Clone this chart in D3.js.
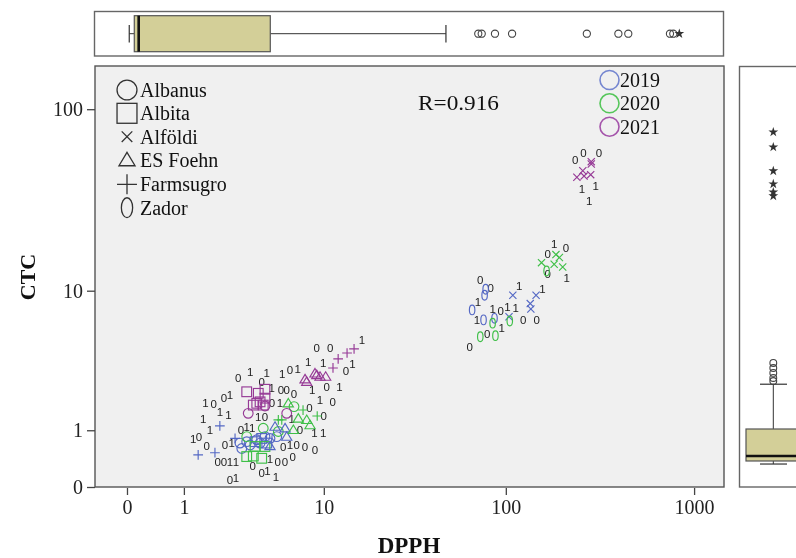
<!DOCTYPE html>
<html><head><meta charset="utf-8">
<script src="https://cdn.jsdelivr.net/npm/d3@7"></script>
<style>body{margin:0;background:#fff;} svg{display:block;will-change:transform;}</style>
</head><body><svg id="c" width="796" height="558"></svg>
<script>
// ---------- DATA ----------
const DPPH_TICKS = [0, 1, 10, 100, 1000];
const CTC_TICKS = [0, 1, 10, 100];
const CULTIVARS = ["Albanus", "Albita", "Alföldi", "ES Foehn", "Farmsugro", "Zador"];
const YEARS = ["2019", "2020", "2021"];
const R_TEXT = "R=0.916";

// [DPPH, CTC]
const albanus2019 = [[2.96,0.71],[3.05,0.60],[3.48,0.67],[3.86,0.78],[4.37,0.85],[4.71,0.81],[5.20,0.85],[4.06,0.71],[3.30,0.74]];
const albanus2020 = [[4.26,1.05],[3.30,0.85],[5.32,0.97],[6.65,1.67]];
const albanus2021 = [[3.38,1.46],[6.0,1.46],[4.37,1.69]];
const albita2019 = [[3.76,0.74],[4.16,0.81],[4.49,0.71]];
const albita2020 = [[3.30,0.45],[3.66,0.46],[4.16,0.42],[3.76,0.64],[4.37,0.64]];
const albita2021 = [[3.30,2.20],[3.95,2.14],[4.37,2.30],[4.37,1.96],[4.06,1.83],[3.66,1.72],[3.86,1.78],[4.26,1.72]];
const alfoldi2019 = [[109,9.4],[145,9.4],[135,8.4],[136,7.8],[104,7.0]];
const alfoldi2020 = [[155,14.5],[185,16.1],[193,15.5],[181,14.2],[201,13.7]];
const alfoldi2021 = [[285,52.2],[285,50.7],[257,46.6],[239,43.0],[261,43.6],[283,44.4]];
const foehn2019 = [[5.07,1.09],[5.86,1.05],[6.0,0.85],[4.71,0.65]];
const foehn2020 = [[6.14,1.78],[7.06,1.31],[7.93,1.27],[8.30,1.13],[6.59,1.01]];
const foehn2021 = [[7.75,2.73],[7.93,2.62],[8.88,3.01],[9.09,2.93],[9.5,2.85],[10.25,2.85]];
const farm2019 = [[2.10,1.11],[2.73,0.81],[1.38,0.48],[1.92,0.52]];
const farm2020 = [[5.32,1.27],[5.59,1.27],[7.54,1.56],[9.15,1.38]];
const farm2021 = [[12.1,3.78],[13.6,4.14],[14.9,4.40],[11.3,3.28]];
const zador2019 = [[78,10.2],[77,9.4],[66,7.7],[76,6.7],[87,6.85]];
const zador2020 = [[85,6.4],[105,6.6],[73,5.27],[88,5.35],[165,13.0]];

// point labels: [text, DPPH, CTC]
const pointLabels = [
 ["0",234,53.3],["0",259,57.9],["0",313,58.4],["1",254,36.9],["1",301,38.7],["1",278,32.0],
 ["1",181,18.5],["0",209,17.5],["0",167,16.2],["0",167,12.5],["1",211,11.9],
 ["0",73,11.5],["0",83,10.4],["1",118,10.7],["1",157,10.2],["1",71,8.6],["1",85,7.8],["0",94,7.6],
 ["1",102,8.0],["1",113,7.9],["1",70,6.7],["0",124,6.7],["0",146,6.7],["1",95,6.0],["0",79.5,5.5],["0",64,4.55],
 ["1",16.5,5.03],["0",9.09,4.44],["0",10.9,4.44],["1",9.93,3.53],["1",14.6,3.49],["0",13.4,3.13],
 ["1",8.10,3.59],["1",5.63,2.96],["0",6.29,3.18],["1",7.0,3.21],["0",2.88,2.77],["1",3.48,3.09],
 ["1",4.49,3.01],["0",4.16,2.62],["1",4.83,2.34],["0",5.53,2.27],["0",6.0,2.27],["0",6.65,2.11],
 ["1",8.55,2.27],["0",10.4,2.40],["1",12.3,2.40],["1",9.5,1.89],["0",11.25,1.83],["1",1.60,1.78],
 ["0",1.88,1.76],["0",2.26,1.98],["1",2.51,2.08],["0",4.85,1.78],["1",5.45,1.80],["0",8.22,1.62],
 ["1",2.10,1.51],["1",2.44,1.41],["1",1.53,1.29],["1",3.95,1.34],["0",4.37,1.34],["1",6.44,1.29],
 ["0",10.0,1.38],["0",3.01,1.01],["1",3.30,1.09],["1",3.60,1.05],["0",7.23,1.01],["1",8.80,0.93],
 ["1",9.93,0.93],["1",1.75,1.01],["1",1.24,0.80],["0",1.40,0.84],["0",1.64,0.65],["0",2.30,0.67],
 ["1",2.58,0.71],["0",5.71,0.64],["1",6.29,0.67],["0",6.90,0.67],["0",7.75,0.64],["0",8.88,0.57],
 ["0",2.02,0.35],["0",2.26,0.35],["1",2.51,0.36],["1",2.77,0.36],["0",3.62,0.29],["0",4.16,0.19],
 ["1",4.53,0.21],["1",5.14,0.13],["1",4.71,0.40],["0",5.27,0.35],["0",5.86,0.35],["0",6.53,0.44],
 ["0",2.51,0.09],["1",2.77,0.11]
];

// marginal boxplot statistics
const dpphBox = {low:0.028, q1:0.093, med:0.153, q3:4.73, high:47.7};
const dpphOutliers = [71.2, 74.3, 87.5, 108, 270, 397, 448, 745, 776];
const dpphExtremes = [835];
const ctcBox = {low:0.324, q1:0.374, med:0.46, q3:1.031, high:2.51};
const ctcOutliers = [2.65, 2.79, 3.03, 3.28, 3.55];
const ctcExtremes = [34.0, 35.7, 39.5, 46.5, 62.6, 75.4];

// ---------- STYLE ----------
const yearColor = {"2019":"#5468c4","2020":"#3fbf48","2021":"#963a96"};
const legendColor = {"2019":"#7586d0","2020":"#55c65a","2021":"#a555ab"};
const serif = "'Liberation Serif','Times New Roman',serif";
const sans = "'Liberation Sans',Arial,sans-serif";

const series = [
 {c:"Albanus",y:"2019",d:albanus2019},{c:"Albanus",y:"2020",d:albanus2020},{c:"Albanus",y:"2021",d:albanus2021},
 {c:"Albita",y:"2019",d:albita2019},{c:"Albita",y:"2020",d:albita2020},{c:"Albita",y:"2021",d:albita2021},
 {c:"Alföldi",y:"2019",d:alfoldi2019},{c:"Alföldi",y:"2020",d:alfoldi2020},{c:"Alföldi",y:"2021",d:alfoldi2021},
 {c:"ES Foehn",y:"2019",d:foehn2019},{c:"ES Foehn",y:"2020",d:foehn2020},{c:"ES Foehn",y:"2021",d:foehn2021},
 {c:"Farmsugro",y:"2019",d:farm2019},{c:"Farmsugro",y:"2020",d:farm2020},{c:"Farmsugro",y:"2021",d:farm2021},
 {c:"Zador",y:"2019",d:zador2019},{c:"Zador",y:"2020",d:zador2020}
];

const svg = d3.select("#c");
const L = 95, R = 724, T = 66, B = 487;
const x = d3.scaleSymlog().constant(1).domain([-0.4765, 1440]).range([L, R]);
const y = d3.scaleSymlog().constant(1).domain([0, 170.2]).range([B, T]);

// shape drawer
function shape(g, type, cx, cy, s, color, sw) {
  const k = s / 9;
  let el;
  if (type === "Albanus") {
    el = g.append("circle").attr("cx",cx).attr("cy",cy).attr("r",4.6*k);
  } else if (type === "Albita") {
    el = g.append("rect").attr("x",cx-4.6*k).attr("y",cy-4.6*k).attr("width",9.2*k).attr("height",9.2*k);
  } else if (type === "Alföldi") {
    const a = 3.4*k;
    el = g.append("path").attr("d",`M${cx-a},${cy-a}L${cx+a},${cy+a}M${cx-a},${cy+a}L${cx+a},${cy-a}`);
  } else if (type === "ES Foehn") {
    const h = 4.6*k;
    el = g.append("path").attr("d",`M${cx},${cy-h}L${cx+h*1.05},${cy+h*0.75}L${cx-h*1.05},${cy+h*0.75}Z`);
  } else if (type === "Farmsugro") {
    const a = 4.6*k;
    el = g.append("path").attr("d",`M${cx-a},${cy}L${cx+a},${cy}M${cx},${cy-a}L${cx},${cy+a}`);
  } else {
    el = g.append("ellipse").attr("cx",cx).attr("cy",cy).attr("rx",2.6*k).attr("ry",4.6*k);
  }
  el.attr("fill","none").attr("stroke",color).attr("stroke-width",sw);
  return el;
}

// ---------- TOP BOXPLOT ----------
svg.append("rect").attr("x",94.5).attr("y",11.5).attr("width",629).attr("height",44.5)
  .attr("fill","#fff").attr("stroke","#666").attr("stroke-width",1.4);
const tb = svg.append("g");
const tyMid = 33.7;
tb.append("line").attr("x1",x(dpphBox.low)).attr("x2",x(dpphBox.q1)).attr("y1",tyMid).attr("y2",tyMid).attr("stroke","#333");
tb.append("line").attr("x1",x(dpphBox.q3)).attr("x2",x(dpphBox.high)).attr("y1",tyMid).attr("y2",tyMid).attr("stroke","#333");
[dpphBox.low, dpphBox.high].forEach(v => tb.append("line").attr("x1",x(v)).attr("x2",x(v)).attr("y1",25).attr("y2",42.5).attr("stroke","#333").attr("stroke-width",1.2));
tb.append("rect").attr("x",x(dpphBox.q1)).attr("y",15.7).attr("width",x(dpphBox.q3)-x(dpphBox.q1)).attr("height",36)
  .attr("fill","#d3cf98").attr("stroke","#555").attr("stroke-width",1.2);
tb.append("line").attr("x1",x(dpphBox.med)).attr("x2",x(dpphBox.med)).attr("y1",15.7).attr("y2",51.7).attr("stroke","#111").attr("stroke-width",2.6);
dpphOutliers.forEach(v => tb.append("circle").attr("cx",x(v)).attr("cy",tyMid).attr("r",3.6).attr("fill","none").attr("stroke","#444").attr("stroke-width",1.1));
dpphExtremes.forEach(v => tb.append("path").attr("transform",`translate(${x(v)},${tyMid})`).attr("d",d3.symbol(d3.symbolStar,30)()).attr("fill","#333"));

// ---------- RIGHT BOXPLOT ----------
svg.append("rect").attr("x",739.5).attr("y",66.5).attr("width",120).attr("height",420.5)
  .attr("fill","#fff").attr("stroke","#666").attr("stroke-width",1.4);
const rb = svg.append("g");
const rxMid = 773.3;
rb.append("line").attr("x1",rxMid).attr("x2",rxMid).attr("y1",y(ctcBox.high)).attr("y2",y(ctcBox.q3)).attr("stroke","#333");
rb.append("line").attr("x1",rxMid).attr("x2",rxMid).attr("y1",y(ctcBox.q1)).attr("y2",y(ctcBox.low)).attr("stroke","#333");
[ctcBox.low, ctcBox.high].forEach(v => rb.append("line").attr("x1",760).attr("x2",787).attr("y1",y(v)).attr("y2",y(v)).attr("stroke","#333").attr("stroke-width",1.2));
rb.append("rect").attr("x",746).attr("y",y(ctcBox.q3)).attr("width",55).attr("height",y(ctcBox.q1)-y(ctcBox.q3))
  .attr("fill","#d3cf98").attr("stroke","#555").attr("stroke-width",1.2);
rb.append("line").attr("x1",746).attr("x2",801).attr("y1",y(ctcBox.med)).attr("y2",y(ctcBox.med)).attr("stroke","#111").attr("stroke-width",2.6);
ctcOutliers.forEach(v => rb.append("circle").attr("cx",rxMid).attr("cy",y(v)).attr("r",3.4).attr("fill","none").attr("stroke","#444").attr("stroke-width",1.1));
ctcExtremes.forEach(v => rb.append("path").attr("transform",`translate(${rxMid},${y(v)})`).attr("d",d3.symbol(d3.symbolStar,30)()).attr("fill","#333"));

// ---------- MAIN PLOT ----------
svg.append("rect").attr("x",L).attr("y",T).attr("width",R-L).attr("height",B-T)
  .attr("fill","#f0f0f0").attr("stroke","#555").attr("stroke-width",1.4);

const xAxis = svg.append("g").attr("transform",`translate(0,${B+1})`)
  .call(d3.axisBottom(x).tickValues(DPPH_TICKS).tickFormat(d3.format("d")).tickSize(7).tickPadding(5));
const yAxis = svg.append("g").attr("transform",`translate(${L},0)`)
  .call(d3.axisLeft(y).tickValues(CTC_TICKS).tickFormat(d3.format("d")).tickSize(8).tickPadding(4));
[xAxis, yAxis].forEach(a => {
  a.select(".domain").remove();
  a.selectAll("line").attr("stroke","#444").attr("stroke-width",1.3);
  a.selectAll("text").attr("font-family",serif).attr("font-size",20).attr("fill","#222");
});

// point labels
const pl = svg.append("g");
pointLabels.forEach(([t,dx,dy]) => {
  pl.append("text").attr("x",x(dx)).attr("y",y(dy)).attr("text-anchor","middle").attr("dominant-baseline","central")
    .attr("font-family",sans).attr("font-size",11.5).attr("fill","#222").text(t);
});

// markers
const mk = svg.append("g");
series.forEach(s => s.d.forEach(([dx,dy]) => shape(mk, s.c, x(dx), y(dy), 9.5, yearColor[s.y], 1.15)));

// legend: cultivars
const rows = [90, 113.3, 136.7, 160, 184.3, 207.7];
const lg = svg.append("g");
CULTIVARS.forEach((c,i) => {
  shape(lg, c, 127, rows[i], c==="Alföldi"?14:(c==="ES Foehn"?15:19.5), "#333", 1.3);
  lg.append("text").attr("x",140).attr("y",rows[i]+7).attr("font-family",serif).attr("font-size",20).attr("fill","#111").text(c);
});
// legend: years
const yrows = [80, 103.3, 126.7];
YEARS.forEach((yr,i) => {
  lg.append("circle").attr("cx",609.5).attr("cy",yrows[i]).attr("r",9.5).attr("fill","none").attr("stroke",legendColor[yr]).attr("stroke-width",1.6);
  lg.append("text").attr("x",620).attr("y",yrows[i]+7).attr("font-family",serif).attr("font-size",20).attr("fill","#111").text(yr);
});

svg.append("text").attr("x",418).attr("y",110).attr("font-family",serif).attr("font-size",21)
  .attr("textLength",81).attr("lengthAdjust","spacingAndGlyphs").attr("fill","#111").text(R_TEXT);

// axis titles
svg.append("text").attr("x",409).attr("y",553).attr("text-anchor","middle").attr("font-family",serif)
  .attr("font-weight","bold").attr("font-size",23).attr("fill","#111").text("DPPH");
svg.append("text").attr("transform","translate(35,277) rotate(-90)").attr("text-anchor","middle").attr("font-family",serif)
  .attr("font-weight","bold").attr("font-size",22).attr("fill","#111").text("CTC");
</script></body></html>
